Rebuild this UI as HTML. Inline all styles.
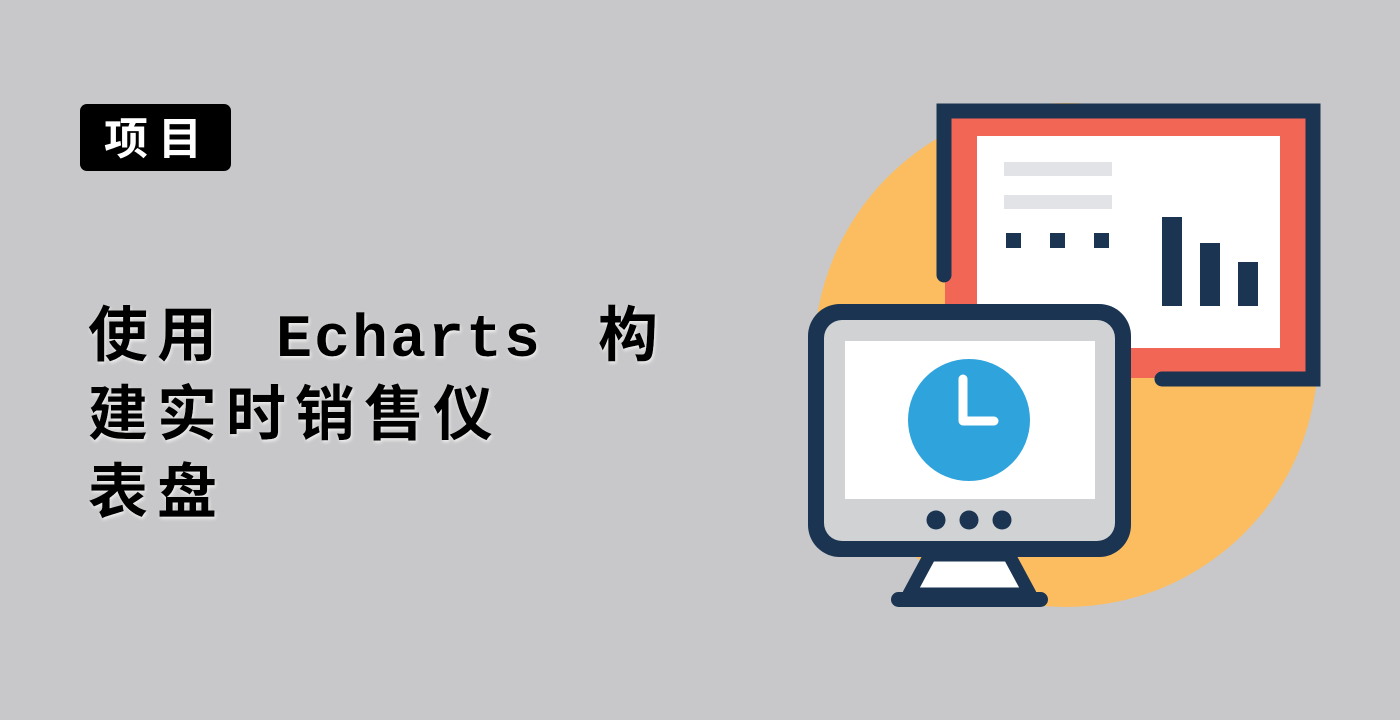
<!DOCTYPE html>
<html><head><meta charset="utf-8">
<style>
html,body{margin:0;padding:0;background:#c8c8ca;width:1400px;height:720px;overflow:hidden}
svg{display:block}
</style></head>
<body>
<svg width="1400" height="720" viewBox="0 0 1400 720" xmlns="http://www.w3.org/2000/svg">
  <defs>
    <filter id="sh" x="-5%" y="-20%" width="110%" height="140%">
      <feDropShadow dx="1" dy="2" stdDeviation="1.5" flood-color="#ffffff" flood-opacity="0.7"/>
    </filter>
  </defs>
  <rect width="1400" height="720" fill="#c8c8ca"/>

  <g>
    <rect x="80" y="104" width="151" height="67" rx="7" fill="#000"/>
    <text x="158" y="154" text-anchor="middle" fill="#fff" font-size="44" font-weight="bold" letter-spacing="10" font-family="'Liberation Sans','Noto Sans CJK SC',sans-serif">项目</text>
  </g>

  <g filter="url(#sh)" fill="#000" font-size="60" font-weight="bold" font-family="'Liberation Mono','Noto Sans CJK SC',monospace">
    <text y="356"><tspan x="88" letter-spacing="9">使用</tspan><tspan x="276" letter-spacing="2">Echarts</tspan><tspan x="598">构</tspan></text>
    <text x="88" y="435" letter-spacing="9">建实时销售仪</text>
    <text x="88" y="513" letter-spacing="9">表盘</text>
  </g>

  <circle cx="1066" cy="355" r="252" fill="#fbbd5f"/>

  <g>
    <rect x="945" y="112" width="367" height="266" fill="#f26656"/>
    <path d="M944 275 V111 H1313 V379 H1162" fill="none" stroke="#1a3452" stroke-width="15" stroke-linecap="round" stroke-linejoin="miter"/>
    <rect x="977" y="136" width="303" height="212" fill="#fff"/>
    <rect x="1004" y="162" width="108" height="14" fill="#e1e3e6"/>
    <rect x="1004" y="195" width="108" height="14" fill="#e1e3e6"/>
    <rect x="1006" y="233" width="15" height="15" fill="#1a3452"/>
    <rect x="1050" y="233" width="15" height="15" fill="#1a3452"/>
    <rect x="1094" y="233" width="15" height="15" fill="#1a3452"/>
    <rect x="1162" y="217" width="20" height="89" fill="#1a3452"/>
    <rect x="1200" y="243" width="20" height="63" fill="#1a3452"/>
    <rect x="1238" y="262" width="20" height="44" fill="#1a3452"/>
  </g>

  <g>
    <path d="M930 555 L909 594 H1030 L1009 555 Z" fill="#fff" stroke="#1a3452" stroke-width="13" stroke-linejoin="round"/>
    <rect x="891" y="592" width="157" height="15" rx="7.5" fill="#1a3452"/>
    <rect x="808" y="304" width="323" height="253" rx="32" fill="#1a3452"/>
    <rect x="824" y="320" width="291" height="221" rx="18" fill="#d0d2d4"/>
    <rect x="845" y="341" width="250" height="158" fill="#fff"/>
    <circle cx="969" cy="420" r="61" fill="#2fa3dc"/>
    <path d="M963 379 V421 H994" fill="none" stroke="#fff" stroke-width="9" stroke-linecap="round" stroke-linejoin="round"/>
    <circle cx="936" cy="520" r="9.5" fill="#1a3452"/>
    <circle cx="969" cy="520" r="9.5" fill="#1a3452"/>
    <circle cx="1002" cy="520" r="9.5" fill="#1a3452"/>
  </g>
</svg>
</body></html>
